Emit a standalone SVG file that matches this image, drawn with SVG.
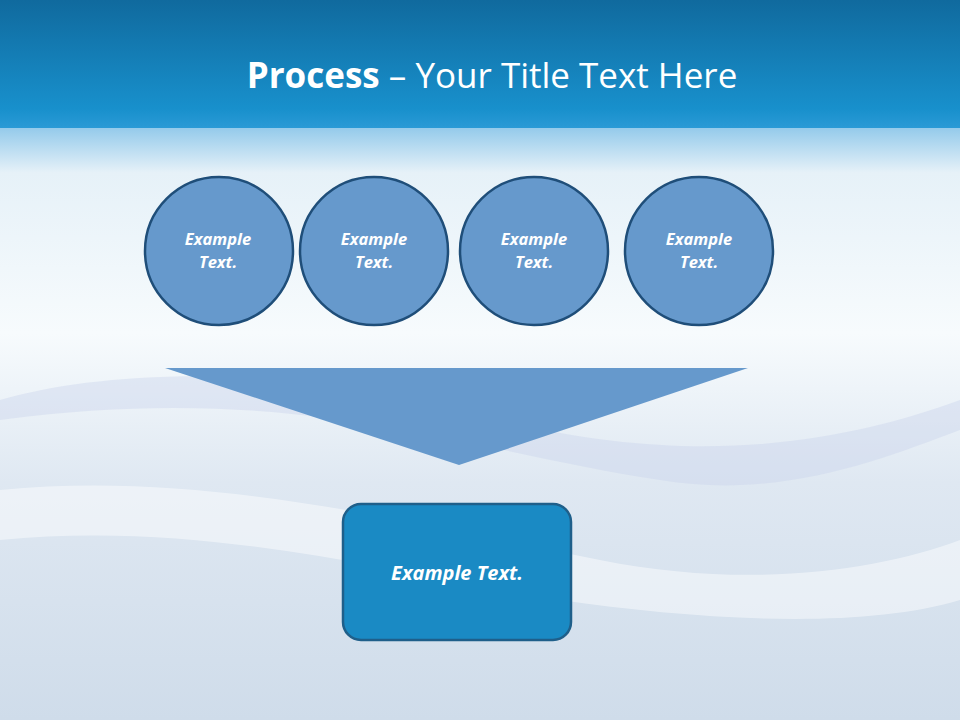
<svg xmlns="http://www.w3.org/2000/svg" width="960" height="720" viewBox="0 0 960 720">
<defs>
<linearGradient id="hdr" x1="0" y1="0" x2="0" y2="1">
<stop offset="0" stop-color="#106a9e"/><stop offset="0.85" stop-color="#1890cc"/><stop offset="1" stop-color="#2a9ad6"/>
</linearGradient>
<linearGradient id="bg" x1="0" y1="0" x2="0" y2="1">
<stop offset="0" stop-color="#8fc8ea"/><stop offset="0.08" stop-color="#e6f1f8"/><stop offset="0.35" stop-color="#f7fbfd"/><stop offset="0.6" stop-color="#dfe8f2"/><stop offset="1" stop-color="#cfdcea"/>
</linearGradient>
<style>
.c{fill:#6699cc;stroke:#1f4e79;stroke-width:2.5}
.t{font-family:"Open Sans",sans-serif;font-weight:bold;font-style:italic;fill:#fff;text-anchor:middle}
</style>
</defs>
<rect x="0" y="125" width="960" height="595" fill="url(#bg)"/>
<path d="M0 490 C200 470 400 520 600 560 C750 590 880 570 960 540 L960 600 C860 630 700 620 560 600 C380 570 200 520 0 540Z" fill="#ffffff" opacity="0.45"/>
<path d="M0 400 C100 370 300 360 500 420 C700 470 850 440 960 400 L960 430 C880 460 780 500 660 480 C460 450 300 380 0 420Z" fill="#c8d2ea" opacity="0.4"/>
<rect x="0" y="0" width="960" height="128" fill="url(#hdr)"/>
<text x="492" y="88" font-family="'Open Sans',sans-serif" font-size="35" fill="#fff" text-anchor="middle"><tspan font-weight="bold">Process</tspan> – Your Title Text Here</text>
<g id="connectors">
<polygon id="funnel" points="165,368 748,368 459,465" fill="#6699cc"/>
</g>
<g id="n1"><circle class="c" cx="219" cy="251" r="74"/><text class="t" x="218" y="245" font-size="16.5">Example</text><text class="t" x="218" y="268" font-size="16.5">Text.</text></g>
<g id="n2"><circle class="c" cx="374" cy="251" r="74"/><text class="t" x="374" y="245" font-size="16.5">Example</text><text class="t" x="374" y="268" font-size="16.5">Text.</text></g>
<g id="n3"><circle class="c" cx="534" cy="251" r="74"/><text class="t" x="534" y="245" font-size="16.5">Example</text><text class="t" x="534" y="268" font-size="16.5">Text.</text></g>
<g id="n4"><circle class="c" cx="699" cy="251" r="74"/><text class="t" x="699" y="245" font-size="16.5">Example</text><text class="t" x="699" y="268" font-size="16.5">Text.</text></g>
<g id="result"><rect x="343" y="504" width="228" height="136" rx="18" fill="#1a8ac4" stroke="#1f5f8a" stroke-width="2.5"/><text class="t" x="457" y="580" font-size="20">Example Text.</text></g>
</svg>
